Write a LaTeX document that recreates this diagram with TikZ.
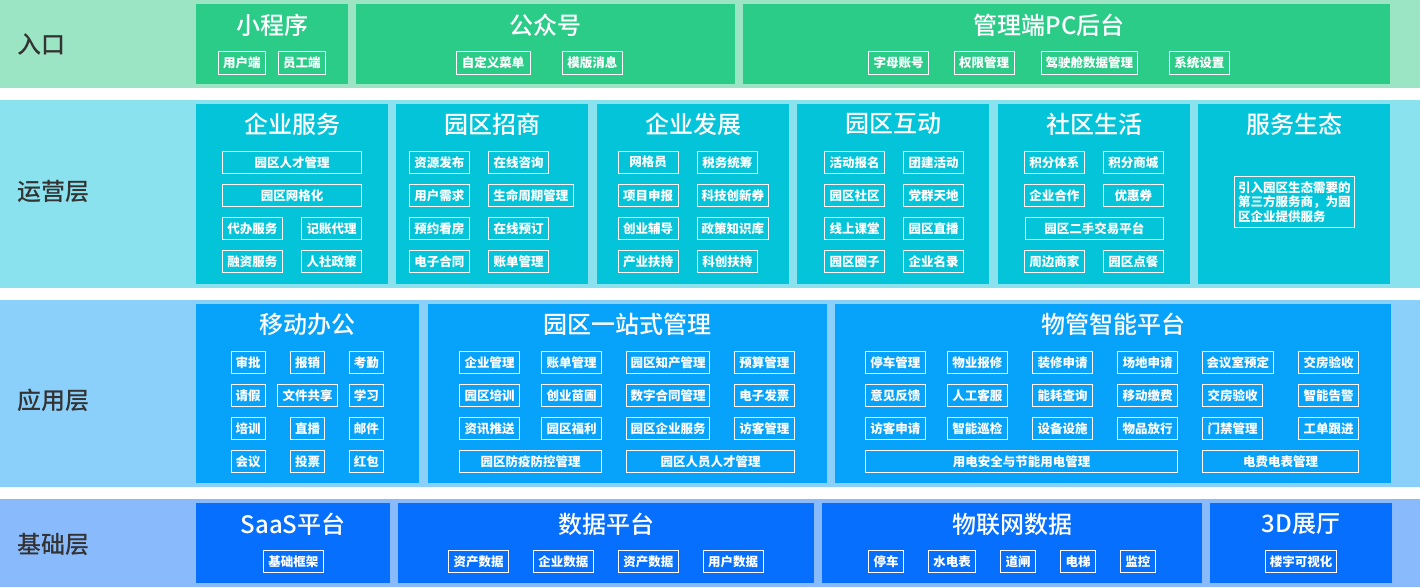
\documentclass[tikz,border=0pt]{standalone}
\usepackage{fontspec}
\setmainfont{Noto Sans CJK SC}
\newfontfamily\ttlfont{Noto Sans CJK SC Medium}
\usepackage{tikz}

\definecolor{bandA}{HTML}{9BE5C4}
\definecolor{boxA}{HTML}{2BCB88}
\definecolor{bandB}{HTML}{8AE2EE}
\definecolor{boxB}{HTML}{04C4D9}
\definecolor{bandC}{HTML}{8BCFFB}
\definecolor{boxC}{HTML}{07A2FA}
\definecolor{bandD}{HTML}{89BAFB}
\definecolor{boxD}{HTML}{066FFD}
\definecolor{lyrgray}{HTML}{333333}

\begin{document}
\begin{tikzpicture}[x=1pt,y=-1pt,
  pnl/.style={inner sep=0pt, outer sep=0pt, draw=none},
  ttl/.style={text=white, font=\ttlfont\fontsize{24}{28}\selectfont, inner sep=0pt},
  lyr/.style={text=lyrgray, font=\ttlfont\fontsize{24}{28}\selectfont, anchor=west, inner sep=0pt},
  tag/.style={draw=white, line width=0.9pt, text=white, inner sep=0pt,
    font=\bfseries\fontsize{12.5}{14.3}\selectfont, minimum height=22.5pt, minimum width=60pt}]
  \useasboundingbox (0,0) rectangle (1420,587);
  \fill[white] (0,0) rectangle (1420,587);

  % layer bands
  \fill[bandA] (0,0) rectangle (1420,87.5);
  \fill[bandB] (0,100) rectangle (1420,288);
  \fill[bandC] (0,300) rectangle (1420,486.5);
  \fill[bandD] (0,499) rectangle (1420,587);

  \node[lyr] (rk) at (17,44) {入口};
  \node[lyr] (yyc) at (17,191.5) {运营层};
  \node[lyr] (yyyc) at (17,400.5) {应用层};
  \node[lyr] (jcc) at (17,544) {基础层};

  % entry layer
  \node[pnl, fill=boxA, minimum width=152pt, minimum height=79.5pt] (pMini) at (272,43.75) {};
  \node[pnl, fill=boxA, minimum width=379pt, minimum height=79.5pt] (pGzh) at (545.5,43.75) {};
  \node[pnl, fill=boxA, minimum width=647pt, minimum height=79.5pt] (pPc) at (1066.5,43.75) {};
  \node[ttl] at (272,25.5) {小程序};
  \node[ttl] at (545.5,25.5) {公众号};
  \node[ttl] at (1049.4,25.5) {管理端PC后台};
  \node[tag, minimum width=47.7pt, minimum height=23pt] (yhd) at (241.9,62.5) {用户端};
  \node[tag, minimum width=47.7pt, minimum height=23pt] (ygd) at (301.8,62.5) {员工端};
  \node[tag, minimum width=74.4pt, minimum height=23pt] (zdycd) at (493.2,62.5) {自定义菜单};
  \node[tag, minimum height=23pt] (mbxx) at (592.3,62.5) {模版消息};
  \node[tag, minimum height=23pt] (zmzh) at (898.6,62.5) {字母账号};
  \node[tag, minimum height=23pt] (qxgl) at (984.2,62.5) {权限管理};
  \node[tag, minimum width=96.6pt, minimum height=23pt] (jscgl) at (1089.3,62.5) {驾驶舱数据管理};
  \node[tag, minimum height=23pt] (xtsz) at (1199.3,62.5) {系统设置};

  % operation layer
  \node[pnl, fill=boxB, minimum width=192pt, minimum height=180pt] (pQyfw) at (292,194) {};
  \node[pnl, fill=boxB, minimum width=192pt, minimum height=180pt] (pYqzs) at (492,194) {};
  \node[pnl, fill=boxB, minimum width=192pt, minimum height=180pt] (pQyfz) at (693,194) {};
  \node[pnl, fill=boxB, minimum width=192pt, minimum height=180pt] (pYqhd) at (893,194) {};
  \node[pnl, fill=boxB, minimum width=192pt, minimum height=180pt] (pSqsh) at (1094,194) {};
  \node[pnl, fill=boxB, minimum width=192pt, minimum height=180pt] (pFwst) at (1294,194) {};
  \node[ttl] at (292,124) {企业服务};
  \node[ttl] at (492,124) {园区招商};
  \node[ttl] at (693,124) {企业发展};
  \node[ttl] at (893,124) {园区互动};
  \node[ttl] at (1094,124) {社区生活};
  \node[ttl] at (1294,124) {服务生态};

  \node[tag, minimum width=139.2pt] (rcgl) at (292,162.3) {园区人才管理};
  \node[tag, minimum width=139.2pt] (wgh) at (292,195.5) {园区网格化};
  \node[tag] (dbfw) at (252.4,228.5) {代办服务};
  \node[tag] (jzdl) at (331.5,228.5) {记账代理};
  \node[tag] (rzfw) at (252.4,261.5) {融资服务};
  \node[tag] (rszc) at (331.5,261.5) {人社政策};

  \node[tag] (zyfb) at (439.4,162.3) {资源发布};
  \node[tag] (zxzx) at (518.5,162.3) {在线咨询};
  \node[tag] (yhxq) at (439.4,195.5) {用户需求};
  \node[tag, minimum width=85pt] (smzq) at (530.9,195.5) {生命周期管理};
  \node[tag] (yykf) at (439.4,228.5) {预约看房};
  \node[tag] (zxyd) at (518.5,228.5) {在线预订};
  \node[tag] (dzht) at (439.4,261.5) {电子合同};
  \node[tag] (zdgl) at (518.5,261.5) {账单管理};

  \node[tag] (wgy) at (648.2,162.3) {网格员};
  \node[tag] (swtc) at (727.3,162.3) {税务统筹};
  \node[tag] (xmsb) at (648.2,195.5) {项目申报};
  \node[tag, minimum width=71.2pt] (kjcx) at (732.8,195.5) {科技创新券};
  \node[tag] (cyfd) at (648.2,228.5) {创业辅导};
  \node[tag, minimum width=71.2pt] (zczs) at (732.8,228.5) {政策知识库};
  \node[tag] (cyfc) at (648.2,261.5) {产业扶持};
  \node[tag] (kcfc) at (727.3,261.5) {科创扶持};

  \node[tag] (hdbm) at (854.5,162.3) {活动报名};
  \node[tag] (tjhd) at (933.5,162.3) {团建活动};
  \node[tag] (yqsq) at (854.5,195.5) {园区社区};
  \node[tag] (dqtd) at (933.5,195.5) {党群天地};
  \node[tag] (xskt) at (854.5,228.5) {线上课堂};
  \node[tag] (yqzb) at (933.5,228.5) {园区直播};
  \node[tag] (yqqz) at (854.5,261.5) {园区圈子};
  \node[tag] (qyml) at (933.5,261.5) {企业名录};

  \node[tag] (jftx) at (1054.4,162.3) {积分体系};
  \node[tag] (jfsc) at (1133.3,162.3) {积分商城};
  \node[tag] (qyhz) at (1054.4,195.5) {企业合作};
  \node[tag] (yhq) at (1133.3,195.5) {优惠券};
  \node[tag, minimum width=138.6pt] (esjy) at (1094.3,228.5) {园区二手交易平台};
  \node[tag] (zbsj) at (1054.4,261.5) {周边商家};
  \node[tag] (yqdc) at (1133.3,261.5) {园区点餐};

  \node[tag, minimum width=120.5pt, minimum height=51.7pt, inner xsep=4pt, align=left] (stjs) at (1294.3,201.9)
    {引入园区生态需要的\\第三方服务商，为园\\区企业提供服务};

  % application layer
  \node[pnl, fill=boxC, minimum width=223pt, minimum height=178.5pt] (pYdbg) at (307.5,393.25) {};
  \node[pnl, fill=boxC, minimum width=399.5pt, minimum height=178.5pt] (pYzs) at (627.25,393.25) {};
  \node[pnl, fill=boxC, minimum width=556pt, minimum height=178.5pt] (pWgzn) at (1113,393.25) {};
  \node[ttl] at (307.5,324) {移动办公};
  \node[ttl] at (627.25,324) {园区一站式管理};
  \node[ttl] at (1113,324) {物管智能平台};

  \node[tag, minimum width=34.4pt] (sp) at (248.2,362.3) {审批};
  \node[tag, minimum width=34.4pt] (bx) at (307.5,362.3) {报销};
  \node[tag, minimum width=34.4pt] (kq) at (366.4,362.3) {考勤};
  \node[tag, minimum width=34.4pt] (qj) at (248.2,395.5) {请假};
  \node[tag, minimum width=60.5pt] (wjgx) at (307.5,395.5) {文件共享};
  \node[tag, minimum width=34.4pt] (xx) at (366.4,395.5) {学习};
  \node[tag, minimum width=34.4pt] (px) at (248.2,428.5) {培训};
  \node[tag, minimum width=34.4pt] (zb) at (307.5,428.5) {直播};
  \node[tag, minimum width=34.4pt] (yj) at (366.4,428.5) {邮件};
  \node[tag, minimum width=34.4pt] (hy) at (248.2,461.5) {会议};
  \node[tag, minimum width=34.4pt] (tp) at (307.5,461.5) {投票};
  \node[tag, minimum width=34.4pt] (hb) at (366.4,461.5) {红包};

  \node[tag] (qygl) at (489.5,362.3) {企业管理};
  \node[tag] (zdgl2) at (571.6,362.3) {账单管理};
  \node[tag, minimum width=82.9pt] (zcgl) at (668,362.3) {园区知产管理};
  \node[tag] (ysgl) at (764.4,362.3) {预算管理};
  \node[tag] (yqpx) at (489.5,395.5) {园区培训};
  \node[tag] (cymp) at (571.6,395.5) {创业苗圃};
  \node[tag, minimum width=82.9pt] (szht) at (668,395.5) {数字合同管理};
  \node[tag] (dzfp) at (764.4,395.5) {电子发票};
  \node[tag] (zxts) at (489.5,428.5) {资讯推送};
  \node[tag] (yqfl) at (571.6,428.5) {园区福利};
  \node[tag, minimum width=82.9pt] (qyfw) at (668,428.5) {园区企业服务};
  \node[tag] (fkgl) at (764.4,428.5) {访客管理};
  \node[tag, minimum width=142.2pt] (fyfk) at (530.5,461.5) {园区防疫防控管理};
  \node[tag, minimum width=167.9pt] (ryrc) at (710.5,461.5) {园区人员人才管理};

  \node[tag] (tcgl) at (895.4,362.3) {停车管理};
  \node[tag] (wybx) at (977.3,362.3) {物业报修};
  \node[tag] (zxsq) at (1062.5,362.3) {装修申请};
  \node[tag] (cdsq) at (1147.6,362.3) {场地申请};
  \node[tag, minimum width=71.2pt] (hysyd) at (1237.9,362.3) {会议室预定};
  \node[tag] (jfys) at (1328.6,362.3) {交房验收};
  \node[tag] (yjfk) at (895.4,395.5) {意见反馈};
  \node[tag] (rgkf) at (977.3,395.5) {人工客服};
  \node[tag] (nhcx) at (1062.5,395.5) {能耗查询};
  \node[tag] (ydjf) at (1147.6,395.5) {移动缴费};
  \node[tag] (jfys2) at (1232.6,395.5) {交房验收};
  \node[tag] (zngj) at (1328.6,395.5) {智能告警};
  \node[tag] (fksq) at (895.4,428.5) {访客申请};
  \node[tag] (znxj) at (977.3,428.5) {智能巡检};
  \node[tag] (sbss) at (1062.5,428.5) {设备设施};
  \node[tag] (wpfx) at (1147.6,428.5) {物品放行};
  \node[tag] (mjgl) at (1232.6,428.5) {门禁管理};
  \node[tag] (gdgj) at (1328.6,428.5) {工单跟进};
  \node[tag, minimum width=312.6pt] (ydaq) at (1021.5,461.5) {用电安全与节能用电管理};
  \node[tag, minimum width=156.5pt] (dfdb) at (1280.6,461.5) {电费电表管理};

  % base layer
  \node[pnl, fill=boxD, minimum width=194pt, minimum height=80pt] (pSaas) at (293,543) {};
  \node[pnl, fill=boxD, minimum width=416pt, minimum height=80pt] (pSjpt) at (606,543) {};
  \node[pnl, fill=boxD, minimum width=380pt, minimum height=80pt] (pWlw) at (1012,543) {};
  \node[pnl, fill=boxD, minimum width=182pt, minimum height=80pt] (p3d) at (1301,543) {};
  \node[ttl] at (293,524) {SaaS平台};
  \node[ttl] at (606,524) {数据平台};
  \node[ttl] at (1012,524) {物联网数据};
  \node[ttl] at (1301,524) {3D展厅};

  \node[tag] (jckj) at (293.4,561.5) {基础框架};
  \node[tag] (zcsj) at (478.6,561.5) {资产数据};
  \node[tag] (qysj) at (563.3,561.5) {企业数据};
  \node[tag] (zcsj2) at (648.3,561.5) {资产数据};
  \node[tag] (yhsj) at (733,561.5) {用户数据};
  \node[tag, minimum width=35.2pt] (tc) at (886,561.5) {停车};
  \node[tag, minimum width=47.1pt] (sdb) at (952,561.5) {水电表};
  \node[tag, minimum width=35.2pt] (dz) at (1018.1,561.5) {道闸};
  \node[tag, minimum width=35.2pt] (dt) at (1078.2,561.5) {电梯};
  \node[tag, minimum width=35.2pt] (jk) at (1137.9,561.5) {监控};
  \node[tag, minimum width=71.2pt] (lykv) at (1301,561.5) {楼宇可视化};
\end{tikzpicture}
\end{document}
